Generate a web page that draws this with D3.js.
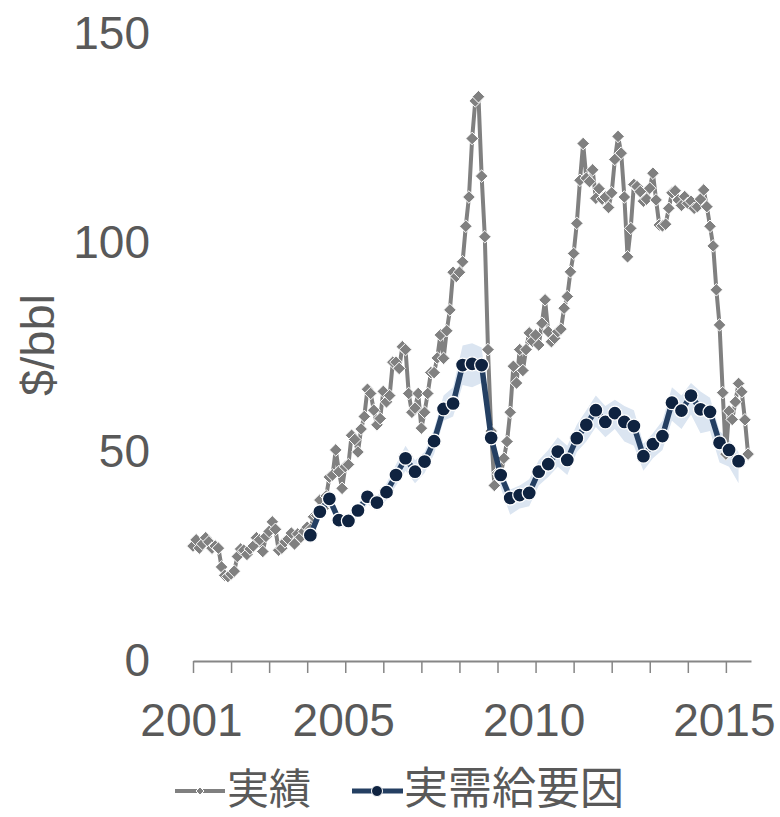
<!DOCTYPE html>
<html>
<head>
<meta charset="utf-8">
<script src="https://cdn.jsdelivr.net/npm/d3@7"></script>
<style>
  html, body { margin: 0; padding: 0; background: #ffffff; }
  svg { display: block; }
</style>
</head>
<body>
<div id="chart"></div>
<script>
// ---------------- DATA ----------------
// 実績: monthly values, Jan 2001 .. Aug 2015
const actualStartYear = 2001;
const actual2001 = [27.5, 29.0, 27.0, 28.0, 29.5, 28.5, 27.0, 27.5, 27.0, 22.5, 20.5, 20.2];
const actual2002 = [20.8, 21.5, 25.0, 26.8, 26.5, 25.5, 26.8, 27.5, 29.5, 29.0, 26.2, 29.8];
const actual2003 = [31.0, 33.3, 31.5, 26.5, 27.0, 28.5, 29.2, 30.6, 28.0, 30.4, 29.6, 31.0];
const actual2004 = [32.0, 31.5, 34.5, 34.8, 38.5, 36.5, 39.5, 44.0, 44.5, 50.5, 45.3, 41.3];
const actual2005 = [46.5, 47.0, 54.0, 53.0, 50.0, 55.5, 58.5, 65.0, 64.0, 60.0, 56.5, 58.0];
const actual2006 = [64.5, 62.0, 63.5, 71.5, 71.5, 70.0, 75.2, 74.5, 64.0, 59.5, 60.5, 64.0];
const actual2007 = [55.7, 59.5, 64.0, 69.0, 69.0, 72.5, 78.0, 72.4, 79.0, 84.0, 93.0, 92.0];
const actual2008 = [93.0, 95.5, 104.0, 111.0, 125.0, 134.0, 135.0, 116.0, 101.5, 74.5, 55.0, 42.0];
const actual2009 = [45.0, 44.5, 48.5, 52.5, 59.5, 70.5, 66.5, 74.5, 69.5, 74.5, 78.5, 76.5];
const actual2010 = [78.0, 75.6, 80.8, 86.4, 78.8, 76.4, 77.2, 78.8, 79.4, 84.4, 87.2, 93.1];
const actual2011 = [97.5, 104.7, 115.0, 123.8, 115.5, 114.7, 117.5, 110.7, 113.0, 110.5, 111.0, 108.5];
const actual2012 = [112.0, 120.0, 125.5, 121.5, 111.0, 96.7, 103.5, 114.0, 113.5, 112.3, 110.0, 110.5];
const actual2013 = [113.1, 116.7, 110.3, 104.3, 104.1, 104.5, 108.3, 112.0, 112.5, 110.3, 109.0, 111.1];
const actual2014 = [109.5, 110.0, 108.3, 108.7, 110.5, 112.7, 108.7, 104.0, 99.3, 88.8, 80.4, 64.2];
const actual2015 = [49.5, 59.8, 57.8, 62.0, 66.4, 64.4, 57.7, 49.5];

// 実需給要因: quarterly values, 2004Q1 .. 2015Q2
const factorStartYear = 2004;
const factorValues = [
  30.1, 35.7, 38.8, 33.7,
  33.5, 36.0, 39.3, 37.9,
  40.4, 44.5, 48.5, 45.3,
  47.7, 52.6, 60.3, 61.6,
  70.8, 71.1, 70.8, 53.4,
  44.5, 39.0, 39.7, 40.2,
  45.3, 47.1, 50.1, 48.1,
  53.3, 56.5, 60.0, 57.2,
  59.3, 57.2, 56.2, 49.0,
  51.9, 53.8, 61.8, 59.9,
  63.5, 60.2, 59.6, 52.2,
  50.5, 47.8
];
const factorHigh = [
  31.0, 37.0, 40.5, 35.0,
  35.0, 37.5, 41.0, 39.5,
  42.5, 47.0, 51.5, 48.0,
  50.0, 55.5, 63.5, 65.5,
  75.5, 76.0, 75.0, 56.5,
  46.5, 41.0, 42.0, 43.5,
  48.0, 50.5, 53.5, 51.5,
  56.5, 60.0, 63.5, 61.0,
  62.5, 61.0, 60.0, 52.0,
  54.5, 57.5, 65.5, 63.5,
  66.5, 64.5, 63.0, 55.0,
  53.0, 50.0
];
const factorLow = [
  29.0, 34.0, 37.0, 32.0,
  32.0, 34.5, 37.5, 36.0,
  38.5, 42.0, 45.5, 42.5,
  45.0, 49.5, 57.5, 58.5,
  66.0, 65.5, 66.5, 50.0,
  41.5, 35.0, 36.5, 37.0,
  42.0, 44.0, 46.5, 44.5,
  50.0, 52.5, 56.0, 53.5,
  55.5, 52.5, 51.5, 45.5,
  48.5, 50.5, 57.5, 55.5,
  59.0, 54.5, 55.0, 47.5,
  46.5, 42.5
];

const yTicks = [0, 50, 100, 150];
const xTickYears = [2001,2002,2003,2004,2005,2006,2007,2008,2009,2010,2011,2012,2013,2014,2015];
const xLabelYears = [2001, 2005, 2010, 2015];
const yTitle = "$/bbl";
const seriesNames = ["実績", "実需給要因"];

// ---------------- BUILD ----------------
const actualValues = [].concat(actual2001, actual2002, actual2003, actual2004, actual2005,
  actual2006, actual2007, actual2008, actual2009, actual2010, actual2011, actual2012,
  actual2013, actual2014, actual2015);
const actual = actualValues.map((v, i) => ({ t: actualStartYear + i / 12, v }));
// quarterly points placed at the middle month of each quarter
const factor = factorValues.map((v, i) => ({
  t: factorStartYear + Math.floor(i / 4) + (i % 4) * 0.25 + 1 / 12,
  v, lo: factorLow[i], hi: factorHigh[i]
}));

const W = 780, H = 817;
const textColor = "#595959";
const numFont = "'Liberation Sans', Arial, sans-serif";
const cjkFont = "'Noto Sans CJK JP', 'Noto Sans', sans-serif";

const svg = d3.select("#chart").append("svg").attr("width", W).attr("height", H);

const x = d3.scaleLinear().domain([2001, 2015.66]).range([193, 751]);
const y = d3.scaleLinear().domain([0, 150]).range([661, 34]);

// band
svg.append("path")
  .datum(factor)
  .attr("fill", "#dbe5f1")
  .attr("d", d3.area().x(d => x(d.t)).y0(d => y(d.lo)).y1(d => y(d.hi)));

// x axis
const xAxis = d3.axisBottom(x)
  .tickValues(xTickYears)
  .tickSize(12)
  .tickSizeOuter(0)
  .tickPadding(30)
  .tickFormat(d => xLabelYears.includes(d) ? String(d) : "");
const gx = svg.append("g").attr("transform", `translate(0,${y(0)})`).call(xAxis);
gx.select(".domain").attr("stroke", "#868686").attr("stroke-width", 2);
gx.selectAll(".tick line").attr("stroke", "#868686").attr("stroke-width", 1.5);
gx.selectAll(".tick text")
  .attr("fill", textColor)
  .attr("font-family", numFont)
  .attr("font-size", 46)
  .attr("dx", -2);

// y axis (labels only)
const yAxis = d3.axisLeft(y).tickValues(yTicks).tickSize(0).tickPadding(0);
const gy = svg.append("g").attr("transform", "translate(150,0)").call(yAxis);
gy.select(".domain").remove();
gy.selectAll(".tick text")
  .attr("fill", textColor)
  .attr("font-family", numFont)
  .attr("font-size", 46);

// y title
svg.append("text")
  .attr("transform", "translate(54,345) rotate(-90)")
  .attr("text-anchor", "middle")
  .attr("fill", textColor)
  .attr("font-family", numFont)
  .attr("font-size", 47)
  .text(yTitle);

const grayCol = "#808080";
const lineCol = "#243f62";
const dotCol = "#0f2340";
const diamond = s => `M0,${-s}L${s},0L0,${s}L${-s},0Z`;

// actual line
svg.append("path")
  .datum(actual)
  .attr("fill", "none")
  .attr("stroke", grayCol)
  .attr("stroke-width", 4)
  .attr("stroke-linejoin", "round")
  .attr("d", d3.line().x(d => x(d.t)).y(d => y(d.v)));

svg.append("g").selectAll("path")
  .data(actual)
  .join("path")
  .attr("transform", d => `translate(${x(d.t)},${y(d.v)})`)
  .attr("d", diamond(6.3))
  .attr("fill", grayCol)
  .attr("stroke", "#ffffff")
  .attr("stroke-width", 1);

// factor line
svg.append("path")
  .datum(factor)
  .attr("fill", "none")
  .attr("stroke", lineCol)
  .attr("stroke-width", 5.5)
  .attr("stroke-linejoin", "round")
  .attr("d", d3.line().x(d => x(d.t)).y(d => y(d.v)));

svg.append("g").selectAll("circle")
  .data(factor)
  .join("circle")
  .attr("cx", d => x(d.t))
  .attr("cy", d => y(d.v))
  .attr("r", 7)
  .attr("fill", dotCol)
  .attr("stroke", "#ffffff")
  .attr("stroke-width", 1.3);

// legend
const lg = svg.append("g");
const ly = 791;
lg.append("line").attr("x1", 175).attr("x2", 225).attr("y1", ly).attr("y2", ly)
  .attr("stroke", grayCol).attr("stroke-width", 4);
lg.append("path").attr("transform", `translate(200,${ly})`).attr("d", diamond(4))
  .attr("fill", grayCol).attr("stroke", "#ffffff").attr("stroke-width", 1);
lg.append("text").attr("x", 227).attr("y", 804)
  .attr("fill", textColor).attr("font-family", cjkFont).attr("font-size", 42)
  .text(seriesNames[0]);

lg.append("line").attr("x1", 352).attr("x2", 403).attr("y1", ly).attr("y2", ly)
  .attr("stroke", lineCol).attr("stroke-width", 5);
lg.append("circle").attr("cx", 377).attr("cy", ly).attr("r", 5.5)
  .attr("fill", dotCol).attr("stroke", "#ffffff").attr("stroke-width", 1);
lg.append("text").attr("x", 404).attr("y", 804)
  .attr("fill", textColor).attr("font-family", cjkFont).attr("font-size", 44)
  .text(seriesNames[1]);
</script>
</body>
</html>
